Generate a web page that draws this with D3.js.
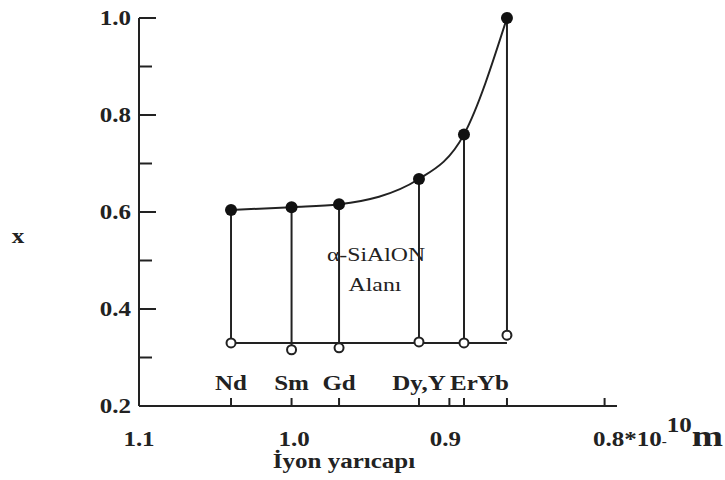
<!DOCTYPE html>
<html>
<head>
<meta charset="utf-8">
<style>
body { margin: 0; background: #fff; }
text { font-family: "Liberation Serif", "Times New Roman", serif; fill: #222; }
.ax { stroke: #222; stroke-width: 2; fill: none; }
</style>
</head>
<body>
<svg width="725" height="480"></svg>
<script src="https://cdn.jsdelivr.net/npm/d3@7/dist/d3.min.js"></script>
<script>
// ion radius (x 10^-10 m) and composition limits x
var elements = ["Nd", "Sm", "Gd", "Dy,Y", "Er", "Yb"];
var radius   = [1.0407, 1.0017, 0.9711, 0.9196, 0.8906, 0.8629];
var upperX   = [0.604, 0.610, 0.616, 0.668, 0.760, 1.000];
var lowerX   = [0.330, 0.316, 0.320, 0.332, 0.330, 0.346];
var baseX = 0.33;
var yMajor = [0.2, 0.4, 0.6, 0.8, 1.0];
var yMinor = [0.3, 0.5, 0.7, 0.9];
var xLabels = [1.1, 1.0, 0.9];

var svg = d3.select("svg");
var x = d3.scaleLinear().domain([1.1, 0.792]).range([139, 617]);
var y = d3.scaleLinear().domain([0.2, 1.0]).range([406, 18]);
var sx = 1.25; // the scanned text is wide

function at(px, py) { return "translate(" + px + "," + py + ") scale(" + sx + ",1)"; }

var pts = elements.map(function(e, i) {
  return {name: e, r: radius[i], up: upperX[i], lo: lowerX[i]};
});

// axes
svg.append("line").attr("class", "ax")
  .attr("x1", x(1.1)).attr("x2", x(1.1)).attr("y1", y(0.2)).attr("y2", y(1.0));
svg.append("line").attr("class", "ax")
  .attr("x1", x(1.1)).attr("x2", x.range()[1]).attr("y1", y(0.2)).attr("y2", y(0.2));

svg.selectAll(".ymaj").data(yMajor.slice(1)).enter().append("line").attr("class", "ax")
  .attr("x1", x(1.1)).attr("x2", x(1.1) + 17).attr("y1", y).attr("y2", y);
svg.selectAll(".ymin").data(yMinor).enter().append("line").attr("class", "ax")
  .attr("x1", x(1.1)).attr("x2", x(1.1) + 13).attr("y1", y).attr("y2", y);
svg.selectAll(".ylab").data(yMajor).enter().append("text")
  .attr("transform", function(d) { return at(131, y(d)); }).attr("dy", "0.35em")
  .attr("text-anchor", "end").style("font-size", "20px").style("font-weight", "bold")
  .text(function(d) { return d.toFixed(1); });

// x ticks: element radii plus 0.9 and 0.8
var xt = radius.concat([0.9, 0.8]);
svg.selectAll(".xt").data(xt).enter().append("line").attr("class", "ax")
  .attr("x1", x).attr("x2", x).attr("y1", y(0.2)).attr("y2", y(0.2) - 8);
svg.selectAll(".xlab").data(xLabels).enter().append("text")
  .attr("transform", function(d) { return at(x(d) - (d == 0.9 ? 4 : 0), 446); })
  .attr("text-anchor", "middle").style("font-size", "20px").style("font-weight", "bold")
  .text(function(d) { return d.toFixed(1); });
var unit = svg.append("text").attr("transform", at(593, 446))
  .style("font-size", "20px").style("font-weight", "bold");
unit.append("tspan").text("0.8*10");
unit.append("tspan").style("font-size", "12px").text("-");
unit.append("tspan").attr("dy", -14).text("10");
unit.append("tspan").attr("dy", 14).style("font-size", "30px").text("m");

svg.append("text").attr("transform", at(344, 468)).attr("text-anchor", "middle")
  .style("font-size", "20px").style("font-weight", "bold").text("İyon yarıcapı");
svg.append("text").attr("transform", at(18, 243)).attr("text-anchor", "middle")
  .style("font-size", "20px").style("font-weight", "bold").text("x");

// element labels
svg.selectAll(".el").data(pts).enter().append("text")
  .attr("transform", function(d) { return at(x(d.r) + (d.name == "Yb" ? 2 : 0), 390); })
  .attr("text-anchor", function(d) { return d.name == "Yb" ? "end" : "middle"; })
  .style("font-size", "20px").style("font-weight", "bold")
  .text(function(d) { return d.name; });

// region
svg.append("line").attr("class", "ax")
  .attr("x1", x(radius[0])).attr("x2", x(radius[radius.length - 1]))
  .attr("y1", y(baseX)).attr("y2", y(baseX));
svg.selectAll(".vl").data(pts).enter().append("line").attr("class", "ax")
  .attr("x1", function(d) { return x(d.r); }).attr("x2", function(d) { return x(d.r); })
  .attr("y1", function(d) { return y(d.up); }).attr("y2", function(d) { return y(d.lo); });

svg.append("path").datum(pts).attr("class", "ax")
  .attr("d", d3.line().curve(d3.curveMonotoneX)
    .x(function(d) { return x(d.r); }).y(function(d) { return y(d.up); }));

svg.selectAll(".op").data(pts).enter().append("circle")
  .attr("cx", function(d) { return x(d.r); }).attr("cy", function(d) { return y(d.lo); })
  .attr("r", 4.5).attr("fill", "#fff").attr("stroke", "#222").attr("stroke-width", 2);
svg.selectAll(".fp").data(pts).enter().append("circle")
  .attr("cx", function(d) { return x(d.r); }).attr("cy", function(d) { return y(d.up); })
  .attr("r", 6).attr("fill", "#111");

svg.append("text").attr("transform", at(376, 261)).attr("text-anchor", "middle")
  .style("font-size", "19px").text("α-SiAlON");
svg.append("text").attr("transform", at(375, 291)).attr("text-anchor", "middle")
  .style("font-size", "19px").text("Alanı");
</script>
</body>
</html>
